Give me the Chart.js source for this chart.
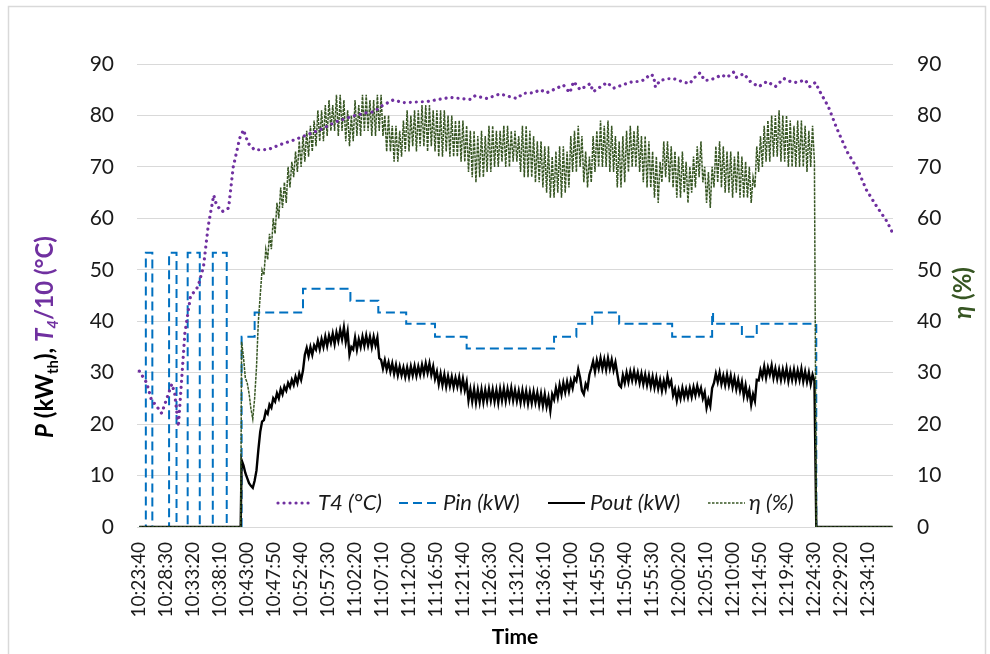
<!DOCTYPE html>
<html>
<head>
<meta charset="utf-8">
<script src="https://cdn.jsdelivr.net/npm/chart.js@4"></script>
<style>
  html, body { margin: 0; padding: 0; background: #fff; }
  #wrap { width: 990px; height: 654px; position: relative; }
</style>
</head>
<body>
<div id="wrap"><canvas id="chart" width="990" height="654"></canvas></div>
<script>
// time in seconds since 10:23:40, one tick label every 290 s
const TICK_STEP = 290;
const tickLabels = ['10:23:40', '10:28:30', '10:33:20', '10:38:10', '10:43:00', '10:47:50', '10:52:40',
  '10:57:30', '11:02:20', '11:07:10', '11:12:00', '11:16:50', '11:21:40', '11:26:30', '11:31:20',
  '11:36:10', '11:41:00', '11:45:50', '11:50:40', '11:55:30', '12:00:20', '12:05:10', '12:10:00',
  '12:14:50', '12:19:40', '12:24:30', '12:29:20', '12:34:10'];
const X_MIN = -25, X_MAX = 8105;

// T4/10 (°C)
const t4Times = [0, 80, 130, 190, 240, 290, 350, 380, 420, 460, 490, 550, 630, 690, 740, 800, 830, 890, 960, 1010,
  1080, 1120, 1170, 1240, 1390, 1510, 1660, 1800, 1940, 2120, 2300, 2440, 2520, 2620, 2730, 2840, 3090, 3340, 3560, 3610,
  3740, 3880, 3950, 4060, 4130, 4240, 4310, 4380, 4490, 4560, 4630, 4670, 4740, 4850, 4880, 5030, 5100, 5240, 5310, 5380,
  5440, 5490, 5530, 5550, 5600, 5670, 5740, 5800, 5870, 5920, 5960, 6030, 6080, 6140, 6210, 6260, 6320, 6390, 6420, 6500,
  6570, 6660, 6750, 6840, 6930, 7000, 7070, 7160, 7210, 7270, 7320, 7410, 7500, 7610, 7720, 7820, 7930, 8040, 8100];
const t4Vals = [30.3, 28, 24.7, 23.4, 22.1, 24.7, 27.8, 26, 19.5, 29.9, 37.7, 44.8, 46.7, 50.6, 58.4, 64.5, 62.6, 61.3, 62, 70,
  75.6, 77.2, 74.6, 73.3, 73.4, 74.3, 75.2, 76.2, 77.2, 78.8, 79.9, 80.5, 80.7, 82, 83, 82.5, 82.7, 83.5, 83.1, 83.8,
  83.3, 84.2, 83.8, 83.3, 84.3, 84.4, 85, 84.4, 85.3, 85.9, 84.4, 86.6, 85, 86.2, 84.6, 86.4, 85.3, 86.2, 86.6, 86.6,
  87, 88, 87.7, 85.5, 86.8, 87.1, 87.2, 86.8, 86.4, 86.2, 87.2, 88.3, 86.8, 86.9, 87.4, 87.9, 87.4, 88.4, 87.4, 88.1,
  86.6, 85.6, 86.6, 85.6, 87.2, 86.6, 86.4, 86.9, 85.6, 86.4, 84.6, 81.7, 77.5, 73, 69.7, 65.5, 62.3, 59.4, 57.2];

// Pin (kW), value holds from its time until the next one
const pinTimes = [0, 70, 140, 320, 400, 520, 650, 790, 940, 1100, 1240, 1760, 2270, 2570, 2870, 3180, 3520,
  4460, 4700, 4870, 5160, 5730, 6160, 6170, 6480, 6640, 7280, 8100];
const pinVals = [0, 53.3, 0, 53.3, 0, 53.3, 0, 53.3, 0, 37, 41.7, 46.3, 44, 41.7, 39.5, 37, 34.7,
  37, 39.5, 41.7, 39.5, 37, 41.7, 39.5, 37, 39.5, 0, 0];

// Pout (kW) and eta (%), sampled every 20 s from 10:42:00 until shutdown
const RUN_START = 1100, RUN_STEP = 20, RUN_STOP = 7280;
const poutVals = [
  13, 12, 10.5, 9.5, 8.5, 8, 7.6, 9, 11, 15,
  18.5, 20.5, 20.8, 22.5, 22, 23.8, 23.2, 25, 24.4, 26,
  25, 26.8, 25.8, 27.3, 26.5, 28, 27.2, 28.6, 27.6, 29.2,
  28, 29.8, 28.6, 30.4, 33.5, 34.8, 33.2, 35, 33.5, 35.3,
  34.5, 36.2, 34.6, 36.5, 35, 37, 35.2, 37.2, 35.8, 37.6,
  35.6, 37.8, 36.2, 38.3, 36.5, 38.8, 36, 38, 33.5, 35,
  34.5, 36.8, 34.5, 36.5, 35, 37, 35.2, 37.2, 35.3, 37,
  35, 37, 35.3, 36.8, 32.8, 32.5, 30.8, 32.4, 30.6, 32,
  30.2, 31.8, 29.8, 31.5, 29.5, 31.2, 29.5, 31, 29.2, 31,
  29.2, 31.2, 29.5, 31.3, 29.4, 31.2, 29.6, 31.5, 29.8, 31.8,
  30, 31.8, 29.6, 31.2, 28.8, 30.2, 27.8, 29.8, 27.6, 29.6,
  27.3, 29.3, 27.4, 29.2, 27.2, 29, 27.3, 29.1, 26.8, 28.8,
  26.6, 28.2, 24.6, 26.8, 24.4, 26.8, 24.2, 26.6, 24.3, 26.7,
  24.3, 26.6, 24.5, 26.8, 24.6, 26.7, 24.4, 26.6, 24.2, 26.8,
  24.6, 26.9, 24.5, 26.8, 24.8, 27, 24.6, 26.6, 24.5, 26.4,
  24.2, 26.5, 24.3, 26.4, 24, 26.2, 24.1, 26.3, 24.2, 26.1,
  23.8, 25.9, 23.6, 25.8, 23.4, 25.2, 22.6, 25.8, 24.8, 27,
  25.2, 27.6, 25.8, 28, 26.2, 28.2, 26.4, 28.4, 27, 29,
  28.4, 30.6, 29, 26.5, 25.8, 27.8, 27, 29.6, 30.8, 32.2,
  30.2, 32.4, 30.8, 32.8, 30.8, 32.6, 30.6, 32.8, 30.8, 32.5,
  30.5, 32, 29.8, 27.6, 27.2, 29.5, 28, 30, 28.2, 30.2,
  28.5, 30.3, 28.4, 30, 28, 29.8, 27.8, 29.6, 27.6, 29.4,
  27.3, 29.2, 27.1, 29, 26.9, 28.6, 26.5, 28.4, 26.8, 29.3,
  27.5, 28.4, 25.6, 26.8, 24.6, 26.6, 25, 27, 25.2, 26.8,
  25.2, 27, 25.3, 27.2, 25.6, 27.4, 25.8, 27, 25, 26.2,
  23.2, 24.8, 23.5, 27, 28, 29.8, 28.2, 30, 27.8, 29.4,
  27.6, 29.6, 27.6, 29.4, 27.2, 29, 26.8, 28.6, 26.5, 28.2,
  25.5, 27.5, 25.2, 26.6, 23.8, 25.8, 24.5, 28.6, 28.5, 30.5,
  29.2, 31.2, 29, 31, 29.6, 31.4, 29, 30.8, 28.8, 30.6,
  28.6, 30.6, 28.8, 30.8, 28.4, 30.4, 28.6, 30.6, 28.5, 30.4,
  28.6, 30.7, 28.3, 30.2, 28.2, 30, 27.8, 29.6, 28.4];
const etaVals = [
  36, 33, 29, 28, 26, 23, 21, 25, 31, 40,
  45, 50, 49, 54, 52, 57, 54, 60, 57, 63,
  60, 66, 62, 67, 63, 70, 66, 71, 68, 73,
  69, 75, 70, 76, 71, 77, 72, 78, 73, 79,
  74, 81, 75, 81, 75, 82, 76, 83, 77, 82,
  77, 84, 76, 84, 77, 83, 75, 81, 74, 80,
  75, 83, 76, 82, 76, 84, 77, 84, 77, 83,
  76, 83, 76, 84, 77, 84, 76, 80, 73, 80,
  73, 78, 71, 78, 71, 77, 72, 79, 73, 81,
  73, 80, 74, 81, 73, 81, 74, 82, 74, 82,
  73, 82, 74, 81, 73, 81, 72, 81, 72, 81,
  73, 80, 72, 80, 72, 79, 72, 79, 71, 79,
  71, 78, 69, 77, 68, 77, 67, 76, 68, 77,
  68, 76, 69, 78, 69, 78, 70, 77, 70, 77,
  71, 78, 70, 78, 70, 77, 71, 77, 71, 76,
  69, 78, 68, 78, 68, 77, 68, 76, 67, 75,
  67, 75, 66, 74, 65, 74, 64, 72, 64, 73,
  65, 74, 64, 74, 65, 73, 66, 76, 69, 77,
  69, 78, 70, 76, 67, 73, 66, 72, 67, 76,
  69, 77, 70, 79, 70, 78, 70, 79, 69, 78,
  69, 76, 66, 75, 66, 76, 67, 77, 69, 78,
  70, 77, 70, 78, 69, 76, 67, 76, 66, 75,
  66, 73, 64, 72, 63, 71, 67, 75, 68, 75,
  67, 74, 66, 73, 64, 72, 64, 73, 65, 71,
  63, 70, 65, 72, 66, 74, 68, 75, 67, 70,
  63, 69, 62, 70, 66, 74, 67, 75, 66, 74,
  65, 73, 65, 73, 64, 72, 65, 73, 64, 72,
  64, 71, 64, 70, 63, 68, 66, 74, 69, 76,
  70, 78, 71, 79, 71, 80, 72, 80, 72, 81,
  71, 80, 71, 80, 70, 79, 70, 78, 70, 79,
  70, 79, 70, 78, 69, 77, 70, 78, 71];

const PURPLE = '#7030A0', BLUE = '#0070C0', GREEN = '#375623', TXT = '#1a1a1a';

const pairs = (ts, vs) => ts.map((t, i) => ({ x: t, y: vs[i] }));
// zero before start-up and after shutdown, measured values in between
const runSeries = vals => [{ x: 0, y: 0 }, { x: RUN_START - 10, y: 0 }]
  .concat(vals.map((v, i) => ({ x: RUN_START + i * RUN_STEP, y: v })))
  .concat([{ x: RUN_STOP, y: 0 }, { x: 8100, y: 0 }]);

const legendItems = [
  { text: 'T4 (°C)', color: PURPLE, width: 3.2, dash: [0.01, 6], cap: 'round', x0: 278, x1: 313, tx: 318 },
  { text: 'Pin (kW)', color: BLUE, width: 2, dash: [9, 5], cap: 'butt', x0: 399, x1: 438, tx: 443 },
  { text: 'Pout (kW)', color: '#000', width: 2, dash: [], cap: 'butt', x0: 548, x1: 585, tx: 590 },
  { text: 'η (%)', color: GREEN, width: 1.3, dash: [2.5, 1.5], cap: 'butt', x0: 708, x1: 745, tx: 749 }
];

function drawPieces(ctx, pieces, cy, baseX) {
  // rotated text made of several styled parts, centred on cy
  let total = 0;
  pieces.forEach(p => { ctx.font = p.font; p.w = ctx.measureText(p.text).width; total += p.w; });
  ctx.save();
  ctx.translate(baseX, cy);
  ctx.rotate(-Math.PI / 2);
  ctx.textBaseline = 'alphabetic';
  ctx.textAlign = 'left';
  let x = -total / 2;
  pieces.forEach(p => {
    ctx.font = p.font;
    ctx.fillStyle = p.color;
    ctx.fillText(p.text, x, p.dy || 0);
    x += p.w;
  });
  ctx.restore();
}

const decorations = {
  id: 'decorations',
  beforeDraw(chart) {
    const ctx = chart.ctx;
    ctx.save();
    ctx.fillStyle = '#fff';
    ctx.fillRect(0, 0, chart.width, chart.height);
    ctx.strokeStyle = '#d9d9d9';
    ctx.lineWidth = 1.5;
    ctx.strokeRect(8.5, 6.5, 977, 670);
    ctx.restore();
  },
  afterDraw(chart) {
    const ctx = chart.ctx;
    const b = 'bold 24px Lato', bi = 'italic bold 24px Lato', s = 'bold 15px Lato', si = 'italic bold 15px Lato';
    drawPieces(ctx, [
      { text: 'P', font: bi, color: '#000' },
      { text: ' (kW', font: b, color: '#000' },
      { text: 'th', font: s, color: '#000', dy: 5 },
      { text: '), ', font: b, color: '#000' },
      { text: 'T', font: bi, color: PURPLE },
      { text: '4', font: si, color: PURPLE, dy: 5 },
      { text: '/10 (°C)', font: b, color: PURPLE }
    ], 337, 53);
    drawPieces(ctx, [
      { text: 'η', font: bi, color: GREEN },
      { text: ' (%)', font: b, color: GREEN }
    ], 293, 971);

    // legend inside the plot
    const ly = 503;
    legendItems.forEach(it => {
      ctx.save();
      ctx.strokeStyle = it.color;
      ctx.lineWidth = it.width;
      ctx.lineCap = it.cap;
      ctx.setLineDash(it.dash);
      ctx.beginPath();
      ctx.moveTo(it.x0, ly);
      ctx.lineTo(it.x1, ly);
      ctx.stroke();
      ctx.restore();
      ctx.save();
      ctx.font = 'italic 22px Lato';
      ctx.fillStyle = TXT;
      ctx.textBaseline = 'middle';
      ctx.fillText(it.text, it.tx, ly);
      ctx.restore();
    });
  }
};

const ctx = document.getElementById('chart').getContext('2d');
new Chart(ctx, {
  type: 'line',
  data: {
    datasets: [
      { label: 'T4 (°C)', data: pairs(t4Times, t4Vals), yAxisID: 'y', order: 0,
        borderColor: PURPLE, borderWidth: 3.2, borderDash: [0.01, 6], borderCapStyle: 'round' },
      { label: 'η (%)', data: runSeries(etaVals), yAxisID: 'y2', order: 1,
        borderColor: GREEN, borderWidth: 1.5, borderDash: [3, 1] },
      { label: 'Pout (kW)', data: runSeries(poutVals), yAxisID: 'y', order: 2,
        borderColor: '#000', borderWidth: 2.4 },
      { label: 'Pin (kW)', data: pairs(pinTimes, pinVals), yAxisID: 'y', order: 3, stepped: true,
        borderColor: BLUE, borderWidth: 2, borderDash: [9, 5] }
    ]
  },
  options: {
    responsive: false,
    animation: false,
    layout: { padding: { top: 64, left: 0, right: 0, bottom: 0 } },
    elements: { point: { radius: 0 }, line: { tension: 0, fill: false } },
    plugins: { legend: { display: false }, tooltip: { enabled: false } },
    scales: {
      x: {
        type: 'linear', min: X_MIN, max: X_MAX,
        afterBuildTicks: s => { s.ticks = tickLabels.map((_, i) => ({ value: i * TICK_STEP })); },
        afterFit: s => { s.height = 127; },
        ticks: { autoSkip: false, maxRotation: 90, minRotation: 90, padding: 15, color: TXT,
          font: { family: 'Lato', size: 19 }, callback: (v, i) => tickLabels[i] },
        grid: { display: false, drawTicks: false },
        border: { display: false },
        title: { display: true, text: 'Time', color: '#000', padding: { top: 0, bottom: 4 },
          font: { family: 'Lato', size: 21, weight: 'bold' } }
      },
      y: {
        position: 'left', min: 0, max: 90,
        afterFit: s => { s.width = 137; },
        ticks: { stepSize: 10, padding: 23, color: TXT, font: { family: 'Lato', size: 21 } },
        grid: { color: '#d9d9d9', lineWidth: 1, drawTicks: false },
        border: { display: false }
      },
      y2: {
        position: 'right', min: 0, max: 90,
        afterFit: s => { s.width = 97; },
        ticks: { stepSize: 10, padding: 24, color: TXT, font: { family: 'Lato', size: 21 } },
        grid: { display: false, drawTicks: false },
        border: { display: false }
      }
    }
  },
  plugins: [decorations]
});
</script>
</body>
</html>
